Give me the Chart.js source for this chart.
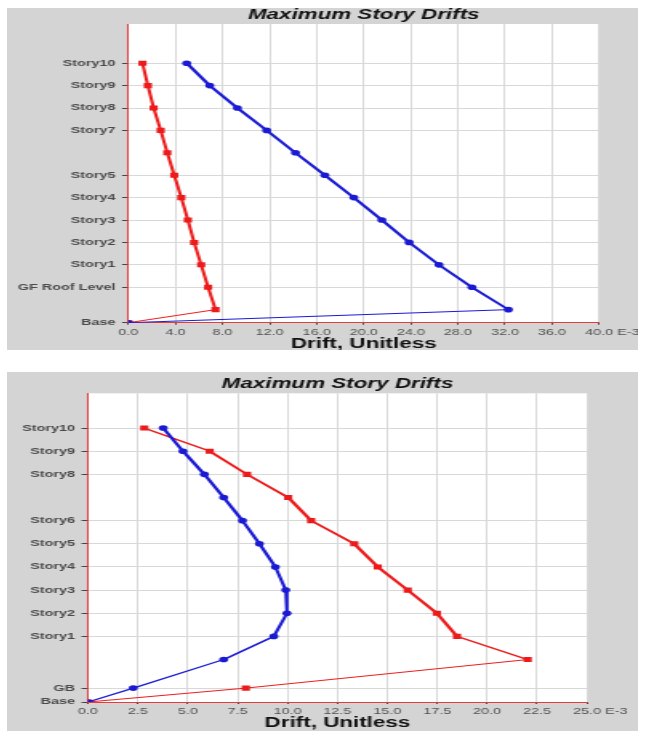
<!DOCTYPE html>
<html>
<head>
<meta charset="utf-8">
<title>Maximum Story Drifts</title>
<script src="https://cdn.jsdelivr.net/npm/chart.js@4.4.1/dist/chart.umd.min.js"></script>
<style>
  html, body { margin: 0; padding: 0; background: #fff; }
  body { width: 646px; height: 731px; position: relative; overflow: hidden; }
  canvas { position: absolute; left: 7px; background: #d4d4d4; }
</style>
</head>
<body>
<canvas id="topChart" width="394" height="342" style="top:8px;width:631px;height:342px"></canvas>
<canvas id="bottomChart" width="394" height="359" style="top:372px;width:631px;height:359px"></canvas>
<script>
// the source screenshot is stretched sideways, so each canvas is drawn narrow and shown wide
const STRETCH = 631 / 394;
const FONT = "'Liberation Sans', Arial, sans-serif";
const RED = '#ec1a1a';
const BLUE = '#1a1ad2';
const AXIS_RED = '#e23c3c';
const GRID = '#d8d8d8';
const TICK_TEXT = '#505050';
const SOURCE_PEN = 4.5;
const MAX_PEN = 3.2;

// upper chart
const topLevels = ['Story10', 'Story9', 'Story8', 'Story7', '', 'Story5', 'Story4', 'Story3', 'Story2', 'Story1', 'GF Roof Level', '', 'Base'];
const topElevations = [34.75, 31.75, 28.75, 25.75, 22.75, 19.75, 16.75, 13.75, 10.75, 7.75, 4.75, 1.75, 0];
const topRedDrift = [1.19, 1.65, 2.14, 2.74, 3.30, 3.89, 4.49, 5.05, 5.58, 6.18, 6.77, 7.40, 0];
const topBlueDrift = [4.95, 6.91, 9.26, 11.75, 14.2, 16.7, 19.16, 21.54, 23.86, 26.4, 29.2, 32.3, 0];
const topDriftTicks = [0, 4, 8, 12, 16, 20, 24, 28, 32, 36, 40];

// lower chart
const bottomLevels = ['Story10', 'Story9', 'Story8', '', 'Story6', 'Story5', 'Story4', 'Story3', 'Story2', 'Story1', '', 'GB', 'Base'];
const bottomElevations = [35.5, 32.5, 29.5, 26.5, 23.5, 20.5, 17.5, 14.5, 11.5, 8.5, 5.5, 1.8, 0];
const bottomRedDrift = [2.82, 6.10, 7.97, 10.03, 11.18, 13.34, 14.52, 16.02, 17.48, 18.49, 22.03, 7.91, 0];
const bottomBlueDrift = [3.77, 4.76, 5.83, 6.80, 7.74, 8.59, 9.39, 9.91, 9.97, 9.31, 6.80, 2.27, 0];
const bottomDriftTicks = [0, 2.5, 5, 7.5, 10, 12.5, 15, 17.5, 20, 22.5, 25];

const ELEVATION_MAX = 40;

// steep segments look heavy in the source, flat ones thin
function segmentWidth(ctx) {
  const dx = ctx.p1.x - ctx.p0.x;
  const dy = ctx.p1.y - ctx.p0.y;
  const lenCanvas = Math.hypot(dx, dy) || 1;
  const lenScreen = Math.hypot(dx * STRETCH, dy) || 1;
  const screenWidth = Math.min(MAX_PEN, Math.max(1, SOURCE_PEN * Math.abs(dy) / lenScreen));
  return screenWidth * lenScreen / (STRETCH * lenCanvas);
}

const plotBackground = {
  id: 'plotBackground',
  beforeDraw(chart) {
    const { ctx, chartArea: a } = chart;
    ctx.save();
    ctx.fillStyle = '#fff';
    ctx.fillRect(a.left, a.top, a.right - a.left, a.bottom - a.top);
    ctx.restore();
  },
};

const exponentLabel = {
  id: 'exponentLabel',
  afterDraw(chart) {
    const xs = chart.scales.x;
    const ctx = chart.ctx;
    const size = 9;
    const last = xs.max.toFixed(1);
    ctx.save();
    ctx.font = `${size}px ${FONT}`;
    ctx.fillStyle = TICK_TEXT;
    ctx.textAlign = 'left';
    ctx.textBaseline = 'middle';
    const x = xs.getPixelForValue(xs.max) + ctx.measureText(last).width / 2 + ctx.measureText(' ').width;
    const y = xs.top + xs.options.grid.tickLength + xs.options.ticks.padding + size * 1.2 / 2;
    ctx.fillText('E-3', x, y);
    ctx.restore();
  },
};

function buildChart(canvasId, spec) {
  const canvas = document.getElementById(canvasId);
  const labelFor = new Map(spec.elevations.map((e, i) => [e, spec.levels[i]]));
  const toPoints = (drifts) => drifts.map((x, i) => ({ x, y: spec.elevations[i] }));
  const hideAtZero = (c) => (c.tick && c.tick.value === 0 ? 'rgba(0,0,0,0)' : GRID);

  return new Chart(canvas, {
    type: 'scatter',
    data: {
      datasets: [
        {
          label: 'Case 2',
          data: toPoints(spec.blue),
          showLine: true,
          borderColor: BLUE,
          backgroundColor: BLUE,
          borderWidth: 1,
          borderCapStyle: 'round',
          pointStyle: 'circle',
          pointRadius: 2.8,
          pointBorderWidth: 0,
          segment: { borderWidth: segmentWidth },
        },
        {
          label: 'Case 1',
          data: toPoints(spec.red),
          showLine: true,
          borderColor: RED,
          backgroundColor: RED,
          borderWidth: 1,
          borderCapStyle: 'round',
          pointStyle: 'rect',
          pointRadius: 3.6,
          pointBorderWidth: 0,
          segment: { borderWidth: segmentWidth },
        },
      ],
    },
    options: {
      responsive: false,
      animation: false,
      devicePixelRatio: 1,
      layout: { padding: { left: 0, top: 0, right: canvas.width - spec.plotRight / STRETCH, bottom: 0 } },
      plugins: {
        legend: { display: false },
        tooltip: { enabled: false },
        title: {
          display: true,
          text: 'Maximum Story Drifts',
          fullSize: false,
          color: '#111',
          font: { family: FONT, size: 14, weight: 'bold', style: 'italic', lineHeight: 1 },
          padding: { top: spec.titleTop, bottom: spec.plotTop - 14 - spec.titleTop },
        },
      },
      scales: {
        x: {
          type: 'linear',
          min: spec.xTicks[0],
          max: spec.xTicks[spec.xTicks.length - 1],
          afterBuildTicks: (axis) => { axis.ticks = spec.xTicks.map((value) => ({ value })); },
          afterFit: (axis) => { axis.height = canvas.height - spec.plotBottom; },
          ticks: {
            autoSkip: false,
            maxRotation: 0,
            padding: 2.5,
            color: TICK_TEXT,
            font: { family: FONT, size: 9 },
            callback: (v) => Number(v).toFixed(1),
          },
          grid: { color: hideAtZero, tickColor: '#444', tickLength: 2, lineWidth: 1 },
          border: { color: AXIS_RED, width: 1 },
          title: {
            display: true,
            text: 'Drift, Unitless',
            color: '#111',
            font: { family: FONT, size: 14, weight: 'bold', lineHeight: 1 },
            padding: { top: 0, bottom: spec.axisTitleBottom },
          },
        },
        y: {
          type: 'linear',
          min: 0,
          max: ELEVATION_MAX,
          afterBuildTicks: (axis) => {
            axis.ticks = spec.elevations.filter((e, i) => spec.levels[i]).map((value) => ({ value }));
          },
          afterFit: (axis) => { axis.width = spec.plotLeft / STRETCH; },
          ticks: {
            autoSkip: false,
            padding: 4,
            color: '#4a4a4a',
            font: { family: FONT, size: 9, weight: 'bold' },
            callback: (v) => labelFor.get(v) || '',
          },
          grid: { color: hideAtZero, tickColor: '#444', tickLength: 4, lineWidth: 1 },
          border: { color: AXIS_RED, width: 1 },
        },
      },
    },
    plugins: [plotBackground, exponentLabel],
  });
}

buildChart('topChart', {
  levels: topLevels,
  elevations: topElevations,
  red: topRedDrift,
  blue: topBlueDrift,
  xTicks: topDriftTicks,
  plotLeft: 121.5,
  plotRight: 592,
  plotTop: 16,
  plotBottom: 314.7,
  titleTop: 0,
  axisTitleBottom: -1,
});

buildChart('bottomChart', {
  levels: bottomLevels,
  elevations: bottomElevations,
  red: bottomRedDrift,
  blue: bottomBlueDrift,
  xTicks: bottomDriftTicks,
  plotLeft: 81,
  plotRight: 580,
  plotTop: 21.3,
  plotBottom: 330,
  titleTop: 5,
  axisTitleBottom: 0.7,
});
</script>
</body>
</html>
